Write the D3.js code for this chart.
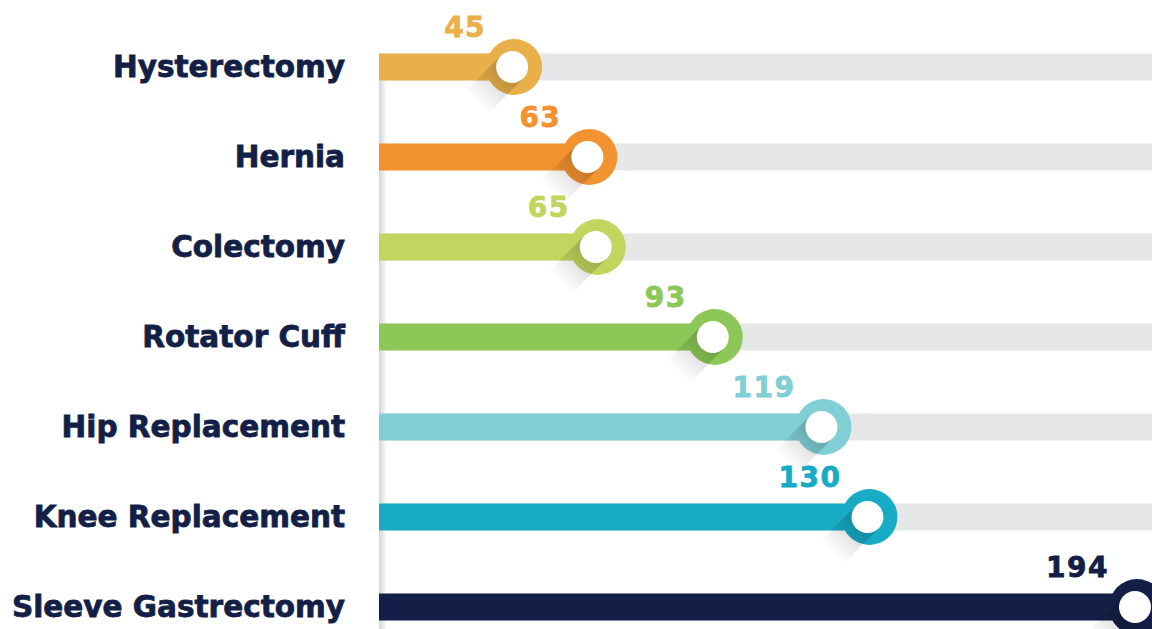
<!DOCTYPE html>
<html>
<head>
<meta charset="utf-8">
<script src="https://cdn.jsdelivr.net/npm/d3@7"></script>
<style>
  html, body { margin: 0; padding: 0; background: #fff; }
  svg { display: block; }
</style>
</head>
<body>
<svg id="chart" width="1152" height="629"></svg>
<script>
// procedimientos y valores
var procedures = ["Hysterectomy", "Hernia", "Colectomy", "Rotator Cuff", "Hip Replacement", "Knee Replacement", "Sleeve Gastrectomy"];
var counts = [45, 63, 65, 93, 119, 130, 194];
var palette = ["#e9b049", "#f3932f", "#c2d55e", "#8cc757", "#80cfd4", "#17abc6", "#131f47"];

var W = 1152, H = 629;
var left = 379;

var svg = d3.select("#chart");
var defs = svg.append("defs");

var y = d3.scalePoint().domain(procedures).range([67, 607]);
var x = d3.scaleLinear().domain([0, 194]).range([326, 1137]);

var barH = 27, rOut = 28, rIn = 16;

// sombra larga
var lg = defs.append("linearGradient").attr("id", "longShadow")
  .attr("x1", "0").attr("y1", "0").attr("x2", "1").attr("y2", "0");
lg.append("stop").attr("offset", "0").attr("stop-color", "#000").attr("stop-opacity", 0.22);
lg.append("stop").attr("offset", "1").attr("stop-color", "#000").attr("stop-opacity", 0);

var vg = defs.append("linearGradient").attr("id", "axisShade")
  .attr("x1", "0").attr("y1", "0").attr("x2", "1").attr("y2", "0");
vg.append("stop").attr("offset", "0").attr("stop-color", "#d6d7d9");
vg.append("stop").attr("offset", "0.4").attr("stop-color", "#e4e5e7");
vg.append("stop").attr("offset", "1").attr("stop-color", "#fff");

svg.append("rect")
  .attr("x", left).attr("y", 80).attr("width", 8).attr("height", H - 80)
  .attr("fill", "url(#axisShade)");

var rows = svg.selectAll(".row").data(procedures).enter()
  .append("g").attr("class", "row");

// pista gris
rows.append("rect")
  .attr("x", left)
  .attr("y", function(d) { return y(d) - barH / 2; })
  .attr("width", W - left)
  .attr("height", barH)
  .attr("fill", "#e6e7e9");

// barra coloreada
rows.append("rect")
  .attr("x", left)
  .attr("y", function(d) { return y(d) - barH / 2; })
  .attr("width", function(d, i) { return x(counts[i]) - left; })
  .attr("height", barH)
  .attr("fill", function(d, i) { return palette[i]; });

// etiquetas
rows.append("text")
  .attr("x", 345)
  .attr("y", function(d) { return y(d) + 10; })
  .attr("text-anchor", "end")
  .attr("font-family", "DejaVu Sans")
  .attr("font-weight", "bold")
  .attr("font-size", 29.5)
  .attr("fill", "#131f47")
  .attr("stroke", "#131f47")
  .attr("stroke-width", 0.8)
  .text(function(d) { return d; });

// circulo exterior
rows.append("circle")
  .attr("cx", function(d, i) { return x(counts[i]); })
  .attr("cy", function(d) { return y(d); })
  .attr("r", rOut)
  .attr("fill", function(d, i) { return palette[i]; });

// sombra hacia abajo a la izquierda
rows.append("rect")
  .attr("x", 0)
  .attr("y", -rIn)
  .attr("width", 50)
  .attr("height", rIn * 2)
  .attr("fill", "url(#longShadow)")
  .attr("transform", function(d, i) {
    return "translate(" + (x(counts[i]) - 2) + "," + y(d) + ") rotate(135)";
  });

// circulo blanco
rows.append("circle")
  .attr("cx", function(d, i) { return x(counts[i]) - 2; })
  .attr("cy", function(d) { return y(d); })
  .attr("r", rIn)
  .attr("fill", "#fff");

// valores
rows.append("text")
  .attr("x", function(d, i) { return x(counts[i]) - 28; })
  .attr("y", function(d) { return y(d) - 30; })
  .attr("text-anchor", "end")
  .attr("font-family", "DejaVu Sans")
  .attr("font-weight", "bold")
  .attr("font-size", 28)
  .attr("letter-spacing", 1.5)
  .attr("fill", function(d, i) { return palette[i]; })
  .attr("stroke", function(d, i) { return palette[i]; })
  .attr("stroke-width", 0.8)
  .text(function(d, i) { return counts[i]; });
</script>
</body>
</html>
